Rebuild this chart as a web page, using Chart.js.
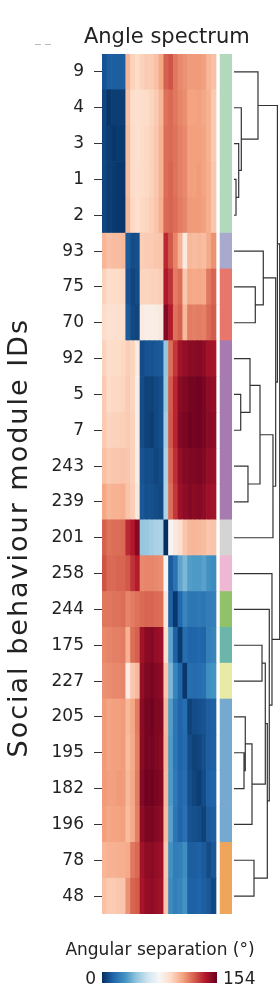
<!DOCTYPE html>
<html>
<head>
<meta charset="utf-8">
<script src="https://cdn.jsdelivr.net/npm/chart.js@4.4.1/dist/chart.umd.min.js"></script>
<style>
  html, body { margin: 0; padding: 0; background: #fff; }
  #wrap { width: 280px; height: 998px; position: relative; }
</style>
</head>
<body>
<div id="wrap"><canvas id="chart"></canvas></div>
<script>
"use strict"

// module IDs, in dendrogram order (rows and columns of the matrix)
const ids = ['9','4','3','1','2','93','75','70','92','5','7','243','239','201','258','244','175','227','205','195','182','196','78','48'];
// cluster of each module (colour strip)
const clusters = ['G','G','G','G','G','A','R','R','P','P','P','P','P','W','K','L','T','Y','B','B','B','B','O','O'];

// angular separation (deg) between modules, row = module, column = module
const angles = [
  [10,13,13,13,13, 103,95,92, 95,97,97,100,107, 123,126,118,114,112, 110,110,110,109, 103,100],
  [6,2,4,4,4, 100,91,89, 91,92,94,97,103, 119,121,118,115,113, 108,108,109,107, 104,97],
  [6,4,2,3,3, 101,92,89, 92,93,95,98,104, 120,121,119,116,114, 109,109,109,108, 104,97],
  [6,4,3,2,2, 101,92,90, 92,93,95,98,104, 120,122,119,116,114, 109,109,110,108, 105,98],
  [6,4,3,2,2, 102,93,90, 93,94,96,99,105, 121,122,120,117,115, 110,110,110,109, 105,98],
  [103,100,101,101,102, 12,8,9, 96,97,97,98,99, 135,125,115,104,84, 102,101,102,101, 106,112],
  [95,91,92,92,93, 10,6,8, 94,94,95,95,96, 139,133,117,120,98, 107,106,107,106, 118,122],
  [92,89,89,90,90, 12,7,6, 84,82,82,83,85, 148,138,119,123,102, 117,116,117,116, 121,124],
  [95,91,92,92,93, 96,94,84, 8,10,10,11,12, 47,120,132,142,145, 147,147,148,146, 142,141],
  [97,92,93,93,94, 97,94,82, 8,5,5,7,9, 48,124,136,147,149, 151,151,152,150, 146,145],
  [97,94,95,95,96, 97,95,82, 8,5,4,7,9, 50,125,136,148,150, 152,151,152,150, 147,146],
  [100,97,98,98,99, 98,95,83, 10,8,8,6,8, 52,122,134,145,148, 149,149,150,148, 145,144],
  [107,103,104,104,105, 99,96,85, 11,9,9,8,7, 53,120,132,143,146, 148,147,148,146, 143,142],
  [123,119,120,120,121, 135,139,148, 47,48,50,52,53, 0,78,85,90,98, 102,103,102,101, 98,99],
  [126,121,121,122,122, 125,133,138, 114,115,115,114,113, 78,12,20,36,42, 34,33,33,35, 30,28],
  [118,118,119,119,120, 115,117,119, 121,122,122,121,120, 85,14,2,16,26, 21,21,22,21, 23,24],
  [114,115,116,116,117, 104,120,123, 142,147,148,145,143, 90,36,14,3,18, 15,15,16,15, 24,26],
  [112,113,114,114,115, 84,98,102, 145,149,150,148,146, 98,42,26,16,2, 18,17,18,19, 29,31],
  [110,108,109,109,110, 102,107,117, 147,151,152,149,148, 102,34,21,15,18, 5,8,9,10, 13,14],
  [110,108,109,109,110, 101,106,116, 147,151,151,149,147, 103,33,21,15,17, 8,5,6,9, 13,14],
  [110,109,109,110,110, 102,107,117, 148,152,152,150,148, 102,33,22,16,18, 9,6,4,8, 14,15],
  [109,107,108,108,109, 101,106,116, 146,150,150,148,146, 101,35,21,15,19, 10,9,8,5, 12,13],
  [103,104,104,105,105, 106,118,121, 142,146,147,145,143, 98,30,23,24,29, 13,13,14,12, 8,11],
  [100,97,97,98,98, 112,122,124, 141,145,146,144,142, 99,28,24,26,31, 14,14,15,13, 11,7]
];

// hierarchical clustering: [child, child, height]; numbers refer to earlier merges
const merges = [
  ['1','2',0.044], ['3',0,0.103], ['4',1,0.16], ['9',2,0.525],
  ['75','70',0.466], ['93',4,0.641],
  ['5','7',0.147], ['92',6,0.35], ['243','239',0.306], [7,8,0.569],
  [9,'201',0.853], [5,10,0.912], [3,11,0.95],
  ['195','182',0.219], ['205',13,0.247], [14,'196',0.394],
  ['78','48',0.438], ['175','227',0.613], [17,15,0.685], [16,18,0.729],
  ['244',19,0.772], ['258',20,0.831], [12,21,1.0]
];

const colourRange = [0, 154];

const clusterColours = {
  G: '#b2d9bc', A: '#a9a8cd', R: '#e9766b', P: '#a57bb0', W: '#d4d4d4',
  K: '#eeb8d5', L: '#90c26a', T: '#6bb5aa', Y: '#e8eba6', B: '#76a9d0', O: '#f0a55c'
};

const rdbu = ['#053061','#2166ac','#4393c3','#92c5de','#d1e5f0','#f7f7f7','#fddbc7','#f4a582','#d6604d','#b2182b','#67001f'];
const rgb = rdbu.map(h => [1,3,5].map(i => parseInt(h.slice(i, i + 2), 16)));
function colourFor(v) {
  let t = (v - colourRange[0]) / (colourRange[1] - colourRange[0]);
  t = Math.max(0, Math.min(1, t)) * (rgb.length - 1);
  const i = Math.min(rgb.length - 2, Math.floor(t)), f = t - i;
  const c = rgb[i].map((a, k) => Math.round(a + (rgb[i + 1][k] - a) * f));
  return `rgb(${c[0]},${c[1]},${c[2]})`;
}

const heatCells = [];
angles.forEach((row, r) => row.forEach((v, c) => heatCells.push({ x: [c, c + 1], y: r, v })));

const stripX = [24.85, 27.3];
const stripCells = ids.map((_, r) => ({ x: stripX, y: r }));

function dendrogramPoints() {
  const pos = {};
  ids.forEach((id, i) => { pos[id] = { y: i, h: 0 }; });
  const pts = [];
  merges.forEach(([a, b, h], k) => {
    const A = typeof a === 'number' ? pos['#' + a] : pos[a];
    const B = typeof b === 'number' ? pos['#' + b] : pos[b];
    pts.push({ x: A.h, y: A.y }, { x: h, y: A.y }, { x: h, y: B.y }, { x: B.h, y: B.y }, { x: NaN, y: NaN });
    pos['#' + k] = { y: (A.y + B.y) / 2, h };
  });
  return pts;
}

const FONT = '"DejaVu Sans", sans-serif';

const decorations = {
  id: 'decorations',
  afterDraw(chart) {
    const { ctx, scales: { x, y } } = chart;
    ctx.save();
    ctx.fillStyle = '#222';
    ctx.textBaseline = 'alphabetic';
    ctx.textAlign = 'center';
    ctx.font = '21px ' + FONT;
    ctx.fillText('Angle spectrum', (x.getPixelForValue(0) + x.getPixelForValue(stripX[1])) / 2, 43);

    // y-axis label, sits a little below the axis centre in the original
    ctx.save();
    ctx.translate(20, y.getPixelForValue(13));
    ctx.rotate(-Math.PI / 2);
    ctx.textBaseline = 'middle';
    ctx.font = '27px ' + FONT;
    ctx.letterSpacing = '2px';
    ctx.fillText('Social behaviour module IDs', 0, 0);
    ctx.restore();

    ctx.fillStyle = '#bbb';
    ctx.fillRect(35, 44, 6, 1);
    ctx.fillRect(45, 44, 6, 1);

    ctx.fillStyle = '#222';
    ctx.font = '17px ' + FONT;
    ctx.fillText('Angular separation (°)', 160, 955);

    const x0 = x.getPixelForValue(0), x1 = x.getPixelForValue(ids.length) + 1;
    const g = ctx.createLinearGradient(x0, 0, x1, 0);
    rdbu.forEach((c, i) => g.addColorStop(i / (rdbu.length - 1), c));
    ctx.fillStyle = g;
    ctx.fillRect(x0, 972, x1 - x0, 11);

    ctx.fillStyle = '#222';
    ctx.textAlign = 'right';
    ctx.fillText(String(colourRange[0]), x0 - 6, 984);
    ctx.textAlign = 'left';
    ctx.fillText(String(colourRange[1]), x1 + 6, 984);
    ctx.restore();
  }
};

new Chart(document.getElementById('chart'), {
  type: 'bar',
  data: {
    datasets: [
      {
        data: heatCells,
        xAxisID: 'x', yAxisID: 'y',
        backgroundColor: ctx => colourFor(ctx.raw.v),
        borderWidth: 0,
        barPercentage: 1, categoryPercentage: 1,
        grouped: false
      },
      {
        data: stripCells,
        xAxisID: 'x', yAxisID: 'y',
        backgroundColor: clusters.map(c => clusterColours[c]),
        borderWidth: 0,
        barPercentage: 1, categoryPercentage: 1,
        grouped: false
      },
      {
        type: 'scatter',
        data: dendrogramPoints(),
        xAxisID: 'd', yAxisID: 'y',
        showLine: true,
        pointRadius: 0,
        borderColor: '#333',
        borderWidth: 1.2,
        spanGaps: false
      }
    ]
  },
  options: {
    indexAxis: 'y',
    responsive: true,
    maintainAspectRatio: false,
    animation: false,
    layout: { padding: { top: 54, bottom: 84, left: 0, right: 0 } },
    plugins: { legend: { display: false }, tooltip: { enabled: false } },
    scales: {
      x: { type: 'linear', axis: 'x', position: 'bottom', display: false, offset: false, min: 0, max: 37.47 },
      d: { type: 'linear', axis: 'x', position: 'bottom', display: false, offset: false, min: -2.888, max: 1.0066 },
      y: {
        type: 'linear', axis: 'y', position: 'left', reverse: true, offset: false,
        min: -0.5, max: ids.length - 0.5,
        afterBuildTicks: s => { s.ticks = ids.map((_, i) => ({ value: i })); },
        afterFit: s => { s.width = 102; },
        border: { display: false },
        grid: { offset: false, drawOnChartArea: false, drawTicks: true, tickLength: 8, color: '#333', tickWidth: 1 },
        ticks: {
          callback: v => ids[v],
          padding: 10,
          color: '#222',
          font: { family: FONT, size: 17 }
        }
      }
    }
  },
  plugins: [decorations]
});
</script>
</body>
</html>
